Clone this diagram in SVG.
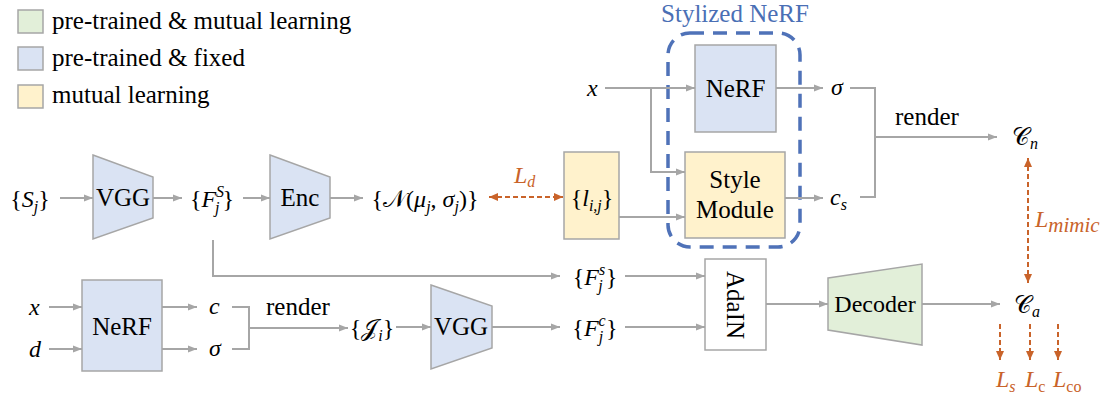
<svg xmlns="http://www.w3.org/2000/svg" width="1107" height="396" viewBox="0 0 1107 396">
<style>
.t{font-size:24px;fill:#000}
.lg{font-size:25px;fill:#000}
.m{font-size:24px;font-style:italic;fill:#000}
.n{font-style:normal}
.s{font-size:16px}
.o{fill:#c9632a}
.box{stroke:#a6a6a6;stroke-width:1.5}
.blue{fill:#dae3f3}
.yel{fill:#fff2cc}
.grn{fill:#e2efd9}
.ln{fill:none;stroke:#a6a6a6;stroke-width:2}
.ar{marker-end:url(#ga)}
.od{fill:none;stroke:#c9632a;stroke-width:2;stroke-dasharray:5 3}
</style>
<defs>
<marker id="ga" markerUnits="userSpaceOnUse" markerWidth="9" markerHeight="8" refX="9" refY="4" orient="auto"><path d="M0,0.5 L9,4 L0,7.5 z" fill="#a6a6a6"/></marker>
<marker id="oa" markerUnits="userSpaceOnUse" markerWidth="9" markerHeight="8" refX="9" refY="4" orient="auto-start-reverse"><path d="M0,0 L9,4 L0,8 z" fill="#c9632a"/></marker>
</defs>

<g id="legend">
<rect x="18" y="10" width="25" height="23" class="box grn"/>
<rect x="18" y="47" width="25" height="23" class="box blue"/>
<rect x="18" y="85" width="25" height="23" class="box yel"/>
<text x="52" y="29" class="lg" font-family="Liberation Serif">pre-trained &amp; mutual learning</text>
<text x="52" y="66" class="lg" font-family="Liberation Serif">pre-trained &amp; fixed</text>
<text x="52" y="103" class="lg" font-family="Liberation Serif">mutual learning</text>
</g>

<g id="stylized-nerf">
<rect x="668" y="33" width="132" height="214" rx="22" fill="none" stroke="#4f72b8" stroke-width="3.5" stroke-dasharray="14 9"/>
<text x="735" y="22" class="lg" font-family="Liberation Serif" text-anchor="middle" style="fill:#4a6fb5">Stylized NeRF</text>
</g>

<g id="connectors">
<line x1="60" y1="198" x2="93" y2="198" class="ln ar"/>
<line x1="153" y1="198" x2="182" y2="198" class="ln ar"/>
<line x1="243" y1="198" x2="270" y2="198" class="ln ar"/>
<line x1="330" y1="198" x2="363" y2="198" class="ln ar"/>
<line x1="489" y1="197" x2="563" y2="197" class="od" marker-start="url(#oa)" marker-end="url(#oa)"/>
<line x1="619" y1="217" x2="685" y2="217" class="ln ar"/>
<line x1="605" y1="88" x2="695" y2="88" class="ln ar"/>
<polyline points="651,88 651,172 685,172" class="ln ar"/>
<line x1="776" y1="88" x2="823" y2="88" class="ln ar"/>
<line x1="785" y1="198" x2="823" y2="198" class="ln ar"/>
<polyline points="850,88 875,88 875,197 860,197" class="ln"/>
<line x1="875" y1="137" x2="997" y2="137" class="ln ar"/>
<polyline points="213,240 213,276 560,276" class="ln ar"/>
<line x1="625" y1="276" x2="705" y2="276" class="ln ar"/>
<line x1="49" y1="307" x2="82" y2="307" class="ln ar"/>
<line x1="49" y1="349" x2="82" y2="349" class="ln ar"/>
<line x1="162" y1="307" x2="197" y2="307" class="ln ar"/>
<line x1="162" y1="349" x2="197" y2="349" class="ln ar"/>
<polyline points="232,307 249,307 249,349 232,349" class="ln"/>
<line x1="249" y1="328" x2="348" y2="328" class="ln ar"/>
<line x1="396" y1="327" x2="431" y2="327" class="ln ar"/>
<line x1="492" y1="327" x2="560" y2="327" class="ln ar"/>
<line x1="625" y1="327" x2="705" y2="327" class="ln ar"/>
<line x1="766" y1="304" x2="828" y2="304" class="ln ar"/>
<line x1="922" y1="304" x2="1000" y2="304" class="ln ar"/>
<line x1="1028" y1="158" x2="1028" y2="283" class="od" marker-start="url(#oa)" marker-end="url(#oa)"/>
<line x1="1000" y1="324" x2="1000" y2="360" class="od" marker-end="url(#oa)"/>
<line x1="1030" y1="324" x2="1030" y2="360" class="od" marker-end="url(#oa)"/>
<line x1="1058" y1="324" x2="1058" y2="360" class="od" marker-end="url(#oa)"/>
</g>

<g id="Sj"><text x="30" y="207" class="m" font-family="Liberation Serif" text-anchor="middle"><tspan class="n">{</tspan>S<tspan class="s" dy="5">j</tspan><tspan class="n" dy="-5">}</tspan></text></g>
<g id="vgg1"><polygon points="93,155 153,177 153,218 93,239" class="box blue"/><text x="123" y="206" class="lg" font-family="Liberation Serif" text-anchor="middle">VGG</text></g>
<g id="FjS"><text x="212" y="207" class="m" font-family="Liberation Serif" text-anchor="middle"><tspan class="n">{</tspan>F<tspan class="s" dy="-10">S</tspan><tspan class="s" dx="-9" dy="16">j</tspan><tspan class="n" dx="3" dy="-6">}</tspan></text></g>
<g id="enc"><polygon points="270,155 330,177 330,218 270,239" class="box blue"/><text x="300" y="206" class="lg" font-family="Liberation Serif" text-anchor="middle">Enc</text></g>
<g id="gauss"><text x="425" y="207" class="m" font-family="Liberation Serif" text-anchor="middle"><tspan class="n">{</tspan><tspan class="n">𝒩</tspan><tspan class="n">(</tspan>μ<tspan class="s" dy="5">j</tspan><tspan class="n" dy="-5">, </tspan>σ<tspan class="s" dy="5">j</tspan><tspan class="n" dy="-5">)}</tspan></text>
<text x="514" y="183" class="m o" font-family="Liberation Serif">L<tspan class="s" dy="4">d</tspan></text></g>
<g id="lij"><rect x="564" y="152" width="55" height="87" class="box yel"/><text x="592" y="206" class="m" font-family="Liberation Serif" text-anchor="middle"><tspan class="n">{</tspan>l<tspan class="s" dy="5">i,j</tspan><tspan class="n" dy="-5">}</tspan></text></g>
<g id="x-top"><text x="587" y="96" class="m" font-family="Liberation Serif">x</text></g>
<g id="nerf-top"><rect x="695" y="45" width="81" height="87" class="box blue"/><text x="735.5" y="97" class="lg" font-family="Liberation Serif" text-anchor="middle">NeRF</text></g>
<g id="style-module"><rect x="685" y="152" width="100" height="86" class="box yel"/><text x="735" y="188" class="lg" font-family="Liberation Serif" text-anchor="middle">Style</text><text x="735" y="218" class="lg" font-family="Liberation Serif" text-anchor="middle">Module</text></g>
<g id="sigma-top"><text x="831" y="95" class="m" font-family="Liberation Serif">σ</text></g>
<g id="cs"><text x="830" y="205" class="m" font-family="Liberation Serif">c<tspan class="s" dy="5">s</tspan></text></g>
<g id="render-top"><text x="895" y="125" class="lg" font-family="Liberation Serif">render</text></g>
<g id="Cn"><text x="1012" y="145" class="m" font-family="Liberation Serif"><tspan class="n">𝒞</tspan><tspan class="s" dy="4">n</tspan></text></g>
<g id="Lmimic"><text x="1035" y="227" class="m o" font-family="Liberation Serif">L<tspan dy="5" style="font-size:21px">mimic</tspan></text></g>

<g id="x-bot"><text x="29" y="315" class="m" font-family="Liberation Serif">x</text></g>
<g id="d-bot"><text x="29" y="357" class="m" font-family="Liberation Serif">d</text></g>
<g id="nerf-bot"><rect x="82" y="280" width="80" height="91" class="box blue"/><text x="122" y="335" class="lg" font-family="Liberation Serif" text-anchor="middle">NeRF</text></g>
<g id="c-bot"><text x="209" y="314" class="m" font-family="Liberation Serif">c</text></g>
<g id="sigma-bot"><text x="209" y="356" class="m" font-family="Liberation Serif">σ</text></g>
<g id="render-bot"><text x="266" y="315" class="lg" font-family="Liberation Serif">render</text></g>
<g id="Ji"><text x="372" y="336" class="m" font-family="Liberation Serif" text-anchor="middle"><tspan class="n">{</tspan><tspan class="n">𝒥</tspan><tspan class="s" dy="5">i</tspan><tspan class="n" dy="-5">}</tspan></text></g>
<g id="vgg2"><polygon points="431,285 492,306 492,348 431,369" class="box blue"/><text x="461" y="335" class="lg" font-family="Liberation Serif" text-anchor="middle">VGG</text></g>
<g id="Fjs"><text x="595" y="285" class="m" font-family="Liberation Serif" text-anchor="middle"><tspan class="n">{</tspan>F<tspan class="s" dy="-10">s</tspan><tspan class="s" dx="-7" dy="16">j</tspan><tspan class="n" dx="3" dy="-6">}</tspan></text></g>
<g id="Fjc"><text x="595" y="336" class="m" font-family="Liberation Serif" text-anchor="middle"><tspan class="n">{</tspan>F<tspan class="s" dy="-10">c</tspan><tspan class="s" dx="-7" dy="16">j</tspan><tspan class="n" dx="3" dy="-6">}</tspan></text></g>
<g id="adain"><rect x="705" y="259" width="61" height="91" class="box" fill="#fff"/><text transform="translate(727,305) rotate(90)" class="lg" font-family="Liberation Serif" text-anchor="middle">AdaIN</text></g>
<g id="decoder"><polygon points="828,278 922,264 922,345 828,330" class="box grn"/><text x="875" y="312" class="t" font-family="Liberation Serif" text-anchor="middle">Decoder</text></g>
<g id="Ca"><text x="1014" y="313" class="m" font-family="Liberation Serif"><tspan class="n">𝒞</tspan><tspan class="s" dy="4">a</tspan></text></g>
<g id="losses">
<text x="996" y="387" class="m o" font-family="Liberation Serif">L<tspan class="s" dy="5">s</tspan></text>
<text x="1025" y="387" class="m o" font-family="Liberation Serif">L<tspan class="s n" dy="5">c</tspan></text>
<text x="1053" y="387" class="m o" font-family="Liberation Serif">L<tspan class="s n" dy="5">co</tspan></text>
</g>
</svg>
